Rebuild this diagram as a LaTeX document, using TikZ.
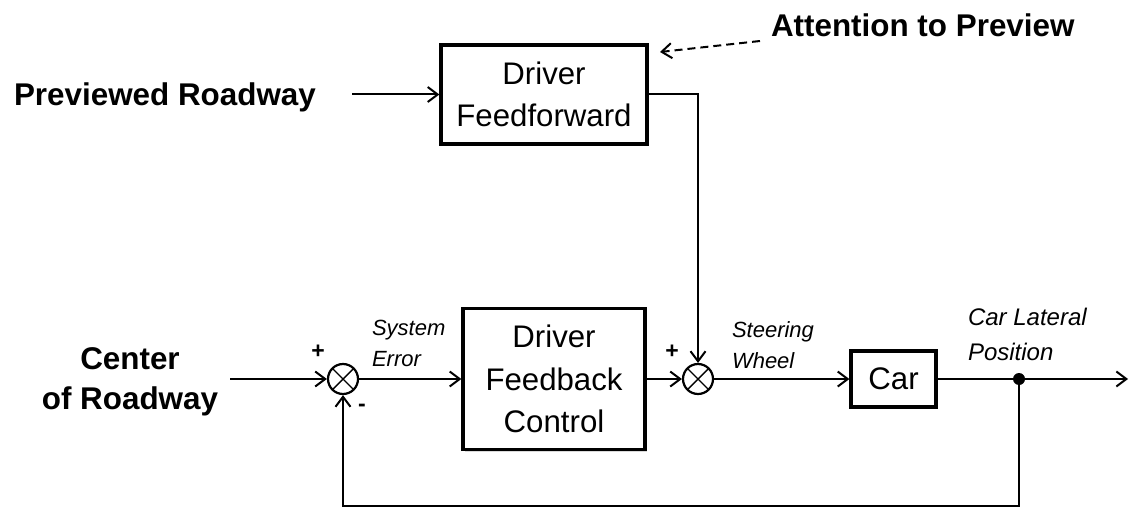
\documentclass[tikz,border=0pt]{standalone}
\usepackage{fontspec}
\setmainfont{Liberation Sans}
\usepackage{tikz}
\usetikzlibrary{arrows.meta,shadows}

\begin{document}
\begin{tikzpicture}[x=0.5pt,y=-0.5pt,line width=1pt,
  >={Straight Barb[length=5pt,width=7.5pt]},
  block/.style={draw,line width=1.6pt,fill=white,align=center,inner sep=0pt,
    font=\fontsize{15.6}{21.3}\selectfont,
    drop shadow={shadow xshift=1.2pt,shadow yshift=-1.2pt,opacity=0.3}},
  sumjct/.style={draw,circle,line width=1.1pt,minimum size=15pt,inner sep=0pt,
    path picture={\draw[line width=0.7pt]
      (path picture bounding box.north west)--(path picture bounding box.south east)
      (path picture bounding box.north east)--(path picture bounding box.south west);}},
  title/.style={font=\fontsize{15.7}{20}\selectfont\bfseries,align=center,inner sep=0pt},
  sig/.style={font=\fontsize{11}{15.5}\selectfont\itshape,align=left,inner sep=0pt,anchor=south west},
  sgn/.style={font=\fontsize{11.5}{12}\selectfont\bfseries,inner sep=0pt}]
\useasboundingbox (0,0) rectangle (1133,508);

% blocks
\node[block,minimum width=103pt,minimum height=49.5pt] (ff) at (544,94.5) {Driver\\Feedforward};
\node[block,minimum width=91pt,minimum height=70.5pt] (fb) at (554,379) {Driver\\Feedback\\Control};
\node[block,minimum width=42.5pt,minimum height=28pt] (car) at (893.5,379) {Car};
\node[sumjct] (s1) at (343,379) {};
\node[sumjct] (s2) at (698,379) {};
\node[circle,fill,inner sep=0pt,minimum size=6pt] (tap) at (1019,379) {};

% labels
\node[title,anchor=base west] (prev) at (13,105) {Previewed Roadway};
\node[title,anchor=base west] (attn) at (770,37) {Attention to Preview};
\node[title] (ctr) at (130,382) {Center\\of Roadway};
\node[sig] (err) at (371,368) {System\\Error};
\node[sig] (steer) at (731,370) {Steering\\Wheel};
\node[sig,font=\fontsize{12}{17.5}\selectfont\itshape] (pos) at (967,362) {Car Lateral\\Position};
\node[sgn] (p1) at (318,352) {+};
\node[sgn] (m1) at (362,408) {-};
\node[sgn] (p2) at (672,352) {+};

\coordinate (inprev) at (352,94.5);
\coordinate (inctr) at (230,379);
\coordinate (out) at (1128,379);
\coordinate (low) at (1019,506);
\coordinate (attntail) at (760,41);
\coordinate (attntip) at (660,52);

% signals
\draw[->] (inprev) -- (ff.west);
\draw[->] (ff.east) -| (s2.north);
\draw[->] (inctr) -- (s1.west);
\draw[->] (s1.east) -- (fb.west);
\draw[->] (fb.east) -- (s2.west);
\draw[->] (s2.east) -- (car.west);
\draw[->] (car.east) -- (out);
\draw[->] (tap.center) -- (low) -| (s1.south);
\draw[->,dash pattern=on 4pt off 2.5pt] (attntail) -- (attntip);
\end{tikzpicture}
\end{document}
